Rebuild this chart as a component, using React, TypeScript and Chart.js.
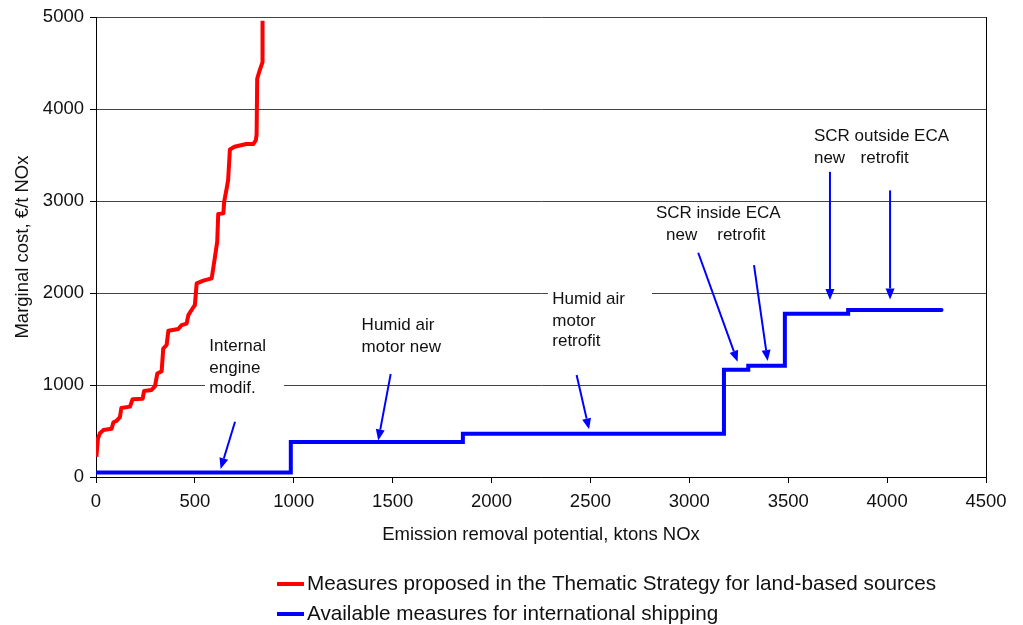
import React, { useEffect, useRef } from "react";
import { Chart, registerables } from "chart.js";

Chart.register(...registerables);

// ---- Data ----
const xTickStep = 500;
const xMax = 4500;
const yTickStep = 1000;
const yMax = 5000;

const redLabel = "Measures proposed in the Thematic Strategy for land-based sources";
const blueLabel = "Available measures for international shipping";

// Land-based measures: cumulative removal (kt) vs marginal cost (€/t)
const redX = [2, 10, 20, 37, 79, 88, 104, 121, 128, 172, 185, 236, 243, 281, 298, 310, 332, 340, 357, 366, 416, 433, 458, 467, 492, 500, 509, 543, 585, 602, 613, 618, 644, 648, 661, 668, 677, 700, 760, 795, 808, 812, 815, 826, 842, 842];
const redY = [220, 420, 475, 510, 525, 595, 610, 650, 750, 765, 845, 852, 935, 946, 985, 1125, 1150, 1395, 1435, 1590, 1608, 1652, 1668, 1760, 1845, 1870, 2105, 2135, 2160, 2400, 2560, 2860, 2866, 2990, 3140, 3228, 3560, 3590, 3620, 3620, 3660, 3720, 4330, 4410, 4510, 4960];

// Shipping measures: step breakpoints (kt) and cost levels (€/t)
const blueBreaks = [0, 985, 1855, 3175, 3298, 3483, 3803, 4275];
const blueLevels = [50, 380, 470, 1165, 1210, 1775, 1815];

// Annotation texts (data coordinates: left x, centre y)
const noteTexts = [
  { text: "Internal", x: 573, y: 1416 },
  { text: "engine", x: 573, y: 1185 },
  { text: "modif.", x: 573, y: 967 },
  { text: "Humid air", x: 1343, y: 1652 },
  { text: "motor new", x: 1343, y: 1415 },
  { text: "Humid air", x: 2307, y: 1932 },
  { text: "motor", x: 2307, y: 1690 },
  { text: "retrofit", x: 2307, y: 1473 },
  { text: "SCR inside ECA", x: 2831, y: 2866 },
  { text: "new", x: 2882, y: 2630 },
  { text: "retrofit", x: 3141, y: 2630 },
  { text: "SCR outside ECA", x: 3630, y: 3699 },
  { text: "new", x: 3630, y: 3464 },
  { text: "retrofit", x: 3866, y: 3464 },
];

// White text boxes (data coordinates)
const noteBoxes = [
  { x1: 551, x2: 951, y1: 859, y2: 1554 },
  { x1: 2285, x2: 2811, y1: 1380, y2: 2065 },
];

// Arrows: tail -> tip (data coordinates)
const noteArrows = [
  { fx: 703, fy: 601, tx: 630, ty: 87 },
  { fx: 1490, fy: 1120, tx: 1427, ty: 397 },
  { fx: 2430, fy: 1109, tx: 2493, ty: 518 },
  { fx: 3045, fy: 2438, tx: 3244, ty: 1253 },
  { fx: 3327, fy: 2304, tx: 3396, ty: 1261 },
  { fx: 3711, fy: 3318, tx: 3711, ty: 1924 },
  { fx: 4015, fy: 3116, tx: 4015, ty: 1931 },
];

const FONT = '"Liberation Sans", Arial, sans-serif';

export default function App() {
  const canvasRef = useRef<HTMLCanvasElement | null>(null);

  useEffect(() => {
    const canvas = canvasRef.current;
    if (!canvas) return;

    const redData = redX.map((x, i) => ({ x, y: redY[i] }));
    const blueData: { x: number; y: number }[] = [];
    blueLevels.forEach((lvl, i) => {
      blueData.push({ x: blueBreaks[i], y: lvl });
      blueData.push({ x: blueBreaks[i + 1], y: lvl });
    });

    const overlay = {
      id: "overlay",
      afterDraw(chart: any) {
        const { ctx, chartArea, scales } = chart;
        const xs = scales.x;
        const ys = scales.y;
        ctx.save();
        // right border
        ctx.strokeStyle = "#000";
        ctx.lineWidth = 1;
        ctx.beginPath();
        ctx.moveTo(Math.round(chartArea.right) + 0.5, chartArea.top);
        ctx.lineTo(Math.round(chartArea.right) + 0.5, chartArea.bottom + 6);
        ctx.stroke();

        // boxes
        ctx.fillStyle = "#fff";
        noteBoxes.forEach((b) => {
          const x1 = xs.getPixelForValue(b.x1);
          const x2 = xs.getPixelForValue(b.x2);
          const y1 = ys.getPixelForValue(b.y2);
          const y2 = ys.getPixelForValue(b.y1);
          ctx.fillRect(x1, y1, x2 - x1, y2 - y1);
        });

        // texts
        ctx.fillStyle = "#111";
        ctx.font = `17px ${FONT}`;
        ctx.textAlign = "left";
        ctx.textBaseline = "middle";
        noteTexts.forEach((t) => {
          ctx.fillText(t.text, xs.getPixelForValue(t.x), ys.getPixelForValue(t.y));
        });

        // arrows
        ctx.strokeStyle = "#0000FF";
        ctx.fillStyle = "#0000FF";
        ctx.lineWidth = 2;
        noteArrows.forEach((a) => {
          const fx = xs.getPixelForValue(a.fx);
          const fy = ys.getPixelForValue(a.fy);
          const tx = xs.getPixelForValue(a.tx);
          const ty = ys.getPixelForValue(a.ty);
          const ang = Math.atan2(ty - fy, tx - fx);
          const hl = 11;
          const hw = 4.5;
          const bx = tx - hl * Math.cos(ang);
          const by = ty - hl * Math.sin(ang);
          ctx.beginPath();
          ctx.moveTo(fx, fy);
          ctx.lineTo(bx, by);
          ctx.stroke();
          ctx.beginPath();
          ctx.moveTo(tx, ty);
          ctx.lineTo(bx + hw * Math.sin(ang), by - hw * Math.cos(ang));
          ctx.lineTo(bx - hw * Math.sin(ang), by + hw * Math.cos(ang));
          ctx.closePath();
          ctx.fill();
        });

        // legend
        const items = [
          { label: redLabel, color: "#FF0000", y: 584 },
          { label: blueLabel, color: "#0000FF", y: 614 },
        ];
        ctx.font = `20.7px ${FONT}`;
        ctx.textBaseline = "middle";
        items.forEach((it) => {
          ctx.strokeStyle = it.color;
          ctx.lineWidth = 4;
          ctx.beginPath();
          ctx.moveTo(277, it.y);
          ctx.lineTo(304, it.y);
          ctx.stroke();
          ctx.fillStyle = "#111";
          ctx.fillText(it.label, 307, it.y);
        });
        ctx.restore();
      },
    };

    const chart = new Chart(canvas, {
      type: "line",
      data: {
        datasets: [
          {
            label: redLabel,
            data: redData,
            borderColor: "#FF0000",
            backgroundColor: "#FF0000",
            borderWidth: 4,
            pointRadius: 0,
            tension: 0,
            fill: false,
            borderJoinStyle: "round",
          },
          {
            label: blueLabel,
            data: blueData,
            borderColor: "#0000FF",
            backgroundColor: "#0000FF",
            borderWidth: 4,
            pointRadius: 0,
            tension: 0,
            fill: false,
            borderJoinStyle: "miter",
            borderCapStyle: "round",
          },
        ],
      },
      options: {
        responsive: false,
        animation: false,
        events: [],
        layout: { padding: { left: 0, right: 37, top: 17, bottom: 68 } },
        plugins: {
          legend: { display: false },
          tooltip: { enabled: false },
        },
        scales: {
          x: {
            type: "linear",
            min: 0,
            max: xMax,
            afterFit: (s: any) => {
              s.height = 80;
            },
            ticks: {
              stepSize: xTickStep,
              color: "#111",
              font: { family: FONT, size: 18.5 },
              padding: 8,
              maxRotation: 0,
              autoSkip: false,
              callback: (v: any) => String(v),
            },
            grid: {
              drawOnChartArea: false,
              drawTicks: true,
              tickLength: 6,
              tickColor: "#000",
              color: "#000",
            },
            border: { display: true, color: "#000", width: 1 },
            title: {
              display: true,
              text: "Emission removal potential, ktons NOx",
              color: "#111",
              font: { family: FONT, size: 18.5 },
              padding: { top: 0, bottom: 11 },
            },
          },
          y: {
            type: "linear",
            min: 0,
            max: yMax,
            afterFit: (s: any) => {
              s.width = 96;
            },
            ticks: {
              stepSize: yTickStep,
              color: "#111",
              font: { family: FONT, size: 18.5 },
              padding: 6,
              callback: (v: any) => String(v),
            },
            grid: {
              color: "#444",
              lineWidth: 1,
              drawTicks: true,
              tickLength: 6,
              tickColor: "#000",
            },
            border: { display: true, color: "#000", width: 1 },
            title: {
              display: true,
              text: "Marginal cost, €/t NOx",
              color: "#111",
              font: { family: FONT, size: 18.5 },
              padding: { top: 12, bottom: 0 },
            },
          },
        },
      },
      plugins: [overlay],
    } as any);

    return () => {
      chart.destroy();
    };
  }, []);

  return (
    <div style={{ position: "absolute", left: 0, top: 0, width: 1023, height: 625, background: "#fff" }}>
      <canvas ref={canvasRef} width={1023} height={625} style={{ display: "block" }} />
    </div>
  );
}
